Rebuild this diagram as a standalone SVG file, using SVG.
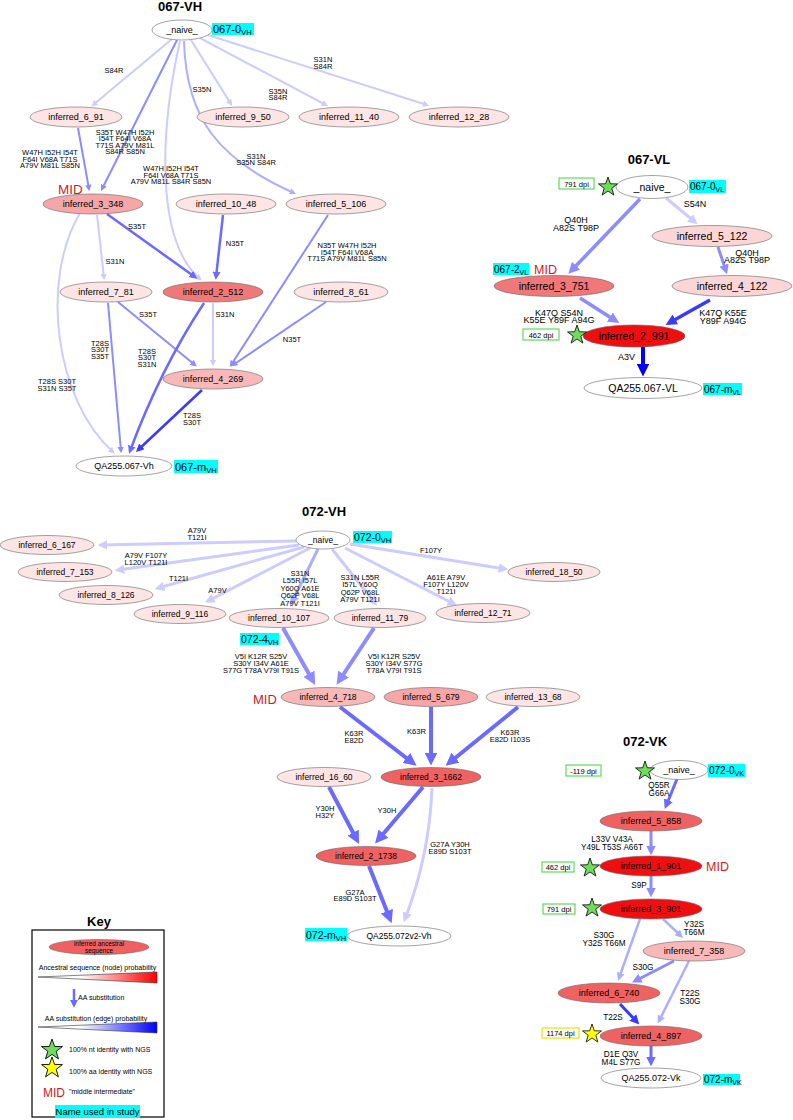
<svg xmlns="http://www.w3.org/2000/svg" width="793" height="1120" viewBox="0 0 793 1120">
<style>
text{font-family:"Liberation Sans",Arial,sans-serif;fill:#000}
.t{font-size:13px;font-weight:bold;text-anchor:middle}
.n{stroke:#666;stroke-width:0.6}
.w{fill:#fff}.p0{fill:#fde5e5}.p1{fill:#fcd6d6}.p2{fill:#f9b8b8}.p3{fill:#f6a6a6}.p4{fill:#f07878}.p5{fill:#ef6262}.p6{fill:#ee1010}
.n9{font-size:9px;text-anchor:middle}
.n85{font-size:8.5px;text-anchor:middle}
.n10{font-size:10.5px;text-anchor:middle}
.l{font-size:7.5px;text-anchor:middle}
.l8{font-size:9px;text-anchor:middle}
.l85{font-size:8.2px;text-anchor:middle}
.e{fill:none;stroke-linecap:butt}
.e1{stroke:#ccccff}.e2{stroke:#aeaeff}.e3{stroke:#8c8cff}.e4{stroke:#6a6aff}.e5{stroke:#3a3aff}.e6{stroke:#0000ff}
.mid{fill:#d01c1c}
.cy{fill:#00ffff}
.dg{fill:#fff;stroke:#5ddc5d;stroke-width:1.2}
.dyl{fill:#fff;stroke:#e6e600;stroke-width:1.2}
.sg{fill:#6fdc5c;stroke:#000;stroke-width:0.8}
.sy{fill:#ffff00;stroke:#000;stroke-width:0.8}
.d{font-size:7.5px;text-anchor:middle}
.k{font-size:7px}
</style>
<defs>
<marker id="m1" viewBox="0 0 10 10" refX="6.5" refY="5" markerWidth="3.2" markerHeight="3.2" orient="auto"><polygon points="0,0 10,5 0,10" fill="#ccccff"/></marker>
<marker id="m2" viewBox="0 0 10 10" refX="6.5" refY="5" markerWidth="3.2" markerHeight="3.2" orient="auto"><polygon points="0,0 10,5 0,10" fill="#aeaeff"/></marker>
<marker id="m3" viewBox="0 0 10 10" refX="6.5" refY="5" markerWidth="3.2" markerHeight="3.2" orient="auto"><polygon points="0,0 10,5 0,10" fill="#8c8cff"/></marker>
<marker id="m4" viewBox="0 0 10 10" refX="6.5" refY="5" markerWidth="3.2" markerHeight="3.2" orient="auto"><polygon points="0,0 10,5 0,10" fill="#6a6aff"/></marker>
<marker id="m5" viewBox="0 0 10 10" refX="6.5" refY="5" markerWidth="3.2" markerHeight="3.2" orient="auto"><polygon points="0,0 10,5 0,10" fill="#3a3aff"/></marker>
<marker id="m6" viewBox="0 0 10 10" refX="6.5" refY="5" markerWidth="3.2" markerHeight="3.2" orient="auto"><polygon points="0,0 10,5 0,10" fill="#0000ff"/></marker>
<path id="star" d="M0,-10 L2.35,-3.24 L9.51,-3.09 L3.8,1.24 L5.88,8.09 L0,4 L-5.88,8.09 L-3.8,1.24 L-9.51,-3.09 L-2.35,-3.24 Z"/>
<linearGradient id="gr" x1="0" y1="0" x2="1" y2="0"><stop offset="0" stop-color="#fff"/><stop offset="0.35" stop-color="#fff"/><stop offset="1" stop-color="#ff0000"/></linearGradient>
<linearGradient id="gb" x1="0" y1="0" x2="1" y2="0"><stop offset="0" stop-color="#fff"/><stop offset="0.35" stop-color="#fff"/><stop offset="1" stop-color="#0000ff"/></linearGradient>
</defs>
<rect x="0" y="0" width="793" height="1120" fill="#fff"/>

<!-- ================= 067-VH ================= -->
<text class="t" x="180" y="11">067-VH</text>
<g id="c067vh">
<path class="e e1" stroke-width="2" marker-end="url(#m1)" d="M172,39 L93,105"/>
<path class="e e3" stroke-width="2" marker-end="url(#m3)" d="M177,40 L102,189"/>
<path class="e e1" stroke-width="2" marker-end="url(#m1)" d="M191,40 L231,104"/>
<path class="e e1" stroke-width="2" marker-end="url(#m1)" d="M200,38 L326,105"/>
<path class="e e1" stroke-width="2" marker-end="url(#m1)" d="M208,35 L427,105"/>
<path class="e e2" stroke-width="2" marker-end="url(#m2)" d="M184,41 C186,120 220,160 294,193"/>
<path class="e e1" stroke-width="2" marker-end="url(#m1)" d="M180,41 C160,130 155,240 200,279"/>
<path class="e e3" stroke-width="2" marker-end="url(#m3)" d="M78,128 L89,189"/>
<path class="e e4" stroke-width="2.5" marker-end="url(#m4)" d="M107,214 L195,277"/>
<path class="e e1" stroke-width="2" marker-end="url(#m1)" d="M97,215 L104,278"/>
<path class="e e1" stroke-width="2" marker-end="url(#m1)" d="M80,213 C40,280 55,400 113,452"/>
<path class="e e4" stroke-width="2.5" marker-end="url(#m4)" d="M223,215 L216,277"/>
<path class="e e3" stroke-width="2" marker-end="url(#m3)" d="M328,215 L231,365"/>
<path class="e e3" stroke-width="2" marker-end="url(#m3)" d="M108,303 L121,451"/>
<path class="e e3" stroke-width="2" marker-end="url(#m3)" d="M118,302 L195,365"/>
<path class="e e4" stroke-width="2.5" marker-end="url(#m4)" d="M204,303 Q160,370 130,451"/>
<path class="e e1" stroke-width="2" marker-end="url(#m1)" d="M213,303 L213,364"/>
<path class="e e3" stroke-width="2" marker-end="url(#m3)" d="M326,302 L233,365"/>
<path class="e e5" stroke-width="2.5" marker-end="url(#m5)" d="M202,390 L138,450"/>
<text class="l" x="114" y="72.5">S84R</text>
<text class="l" x="125" y="134.5"><tspan x="125">S35T W47H I52H</tspan><tspan x="125" dy="6.5">I54T F64I V68A</tspan><tspan x="125" dy="6.5">T71S A79V M81L</tspan><tspan x="125" dy="6.5">S84R S85N</tspan></text>
<text class="l" x="202" y="92">S35N</text>
<text class="l" x="278" y="93.5"><tspan x="278">S35N</tspan><tspan x="278" dy="6.5">S84R</tspan></text>
<text class="l" x="323" y="62"><tspan x="323">S31N</tspan><tspan x="323" dy="6.5">S84R</tspan></text>
<text class="l" x="256" y="158.5"><tspan x="256">S31N</tspan><tspan x="256" dy="6.5">S35N S84R</tspan></text>
<text class="l" x="171" y="171"><tspan x="171">W47H I52H I54T</tspan><tspan x="171" dy="6.5">F64I V68A T71S</tspan><tspan x="171" dy="6.5">A79V M81L S84R S85N</tspan></text>
<text class="l" x="50" y="155"><tspan x="50">W47H I52H I54T</tspan><tspan x="50" dy="6.5">F64I V68A T71S</tspan><tspan x="50" dy="6.5">A79V M81L S85N</tspan></text>
<text class="l" x="137" y="228.5">S35T</text>
<text class="l" x="115" y="263.5">S31N</text>
<text class="l" x="235" y="245.5">N35T</text>
<text class="l" x="347" y="248"><tspan x="347">N35T W47H I52H</tspan><tspan x="347" dy="6.5">I54T F64I V68A</tspan><tspan x="347" dy="6.5">T71S A79V M81L S85N</tspan></text>
<text class="l" x="100" y="345.5"><tspan x="100">T28S</tspan><tspan x="100" dy="6.5">S30T</tspan><tspan x="100" dy="6.5">S35T</tspan></text>
<text class="l" x="148" y="316.5">S35T</text>
<text class="l" x="147" y="353.5"><tspan x="147">T28S</tspan><tspan x="147" dy="6.5">S30T</tspan><tspan x="147" dy="6.5">S31N</tspan></text>
<text class="l" x="225" y="316.5">S31N</text>
<text class="l" x="292" y="341.5">N35T</text>
<text class="l" x="192" y="418"><tspan x="192">T28S</tspan><tspan x="192" dy="6.5">S30T</tspan></text>
<text class="l" x="57" y="384"><tspan x="57">T28S S30T</tspan><tspan x="57" dy="6.5">S31N S35T</tspan></text>
</g>
<g id="vh067_naive"><ellipse class="n w" cx="182" cy="30" rx="30" ry="10"/><text class="n9" x="182" y="33">_naive_</text>
<rect class="cy" x="212" y="23" width="42" height="12"/><text x="213" y="33" font-size="11">067-0<tspan font-size="7.5" dy="2">VH</tspan></text></g>
<g id="vh067_i6_91"><ellipse class="n p0" cx="76" cy="117" rx="46" ry="10"/><text class="n9" x="76" y="120">inferred_6_91</text></g>
<g id="vh067_i9_50"><ellipse class="n p0" cx="243" cy="117" rx="46" ry="10"/><text class="n9" x="243" y="120">inferred_9_50</text></g>
<g id="vh067_i11_40"><ellipse class="n p0" cx="349" cy="117" rx="50" ry="10"/><text class="n9" x="349" y="120">inferred_11_40</text></g>
<g id="vh067_i12_28"><ellipse class="n p0" cx="459" cy="117" rx="50" ry="10"/><text class="n9" x="459" y="120">inferred_12_28</text></g>
<g id="vh067_i3_348"><ellipse class="n p3" cx="93" cy="204" rx="50" ry="10"/><text class="n9" x="93" y="207">inferred_3_348</text><text class="mid" x="58" y="194" font-size="13.5">MID</text></g>
<g id="vh067_i10_48"><ellipse class="n p0" cx="226" cy="204" rx="50" ry="10"/><text class="n9" x="226" y="207">inferred_10_48</text></g>
<g id="vh067_i5_106"><ellipse class="n p0" cx="336" cy="204" rx="50" ry="10"/><text class="n9" x="336" y="207">inferred_5_106</text></g>
<g id="vh067_i7_81"><ellipse class="n p0" cx="106" cy="292" rx="46" ry="10"/><text class="n9" x="106" y="295">inferred_7_81</text></g>
<g id="vh067_i2_512"><ellipse class="n p4" cx="213" cy="292" rx="50" ry="10"/><text class="n9" x="213" y="295">inferred_2_512</text></g>
<g id="vh067_i8_61"><ellipse class="n p0" cx="341" cy="292" rx="47" ry="10"/><text class="n9" x="341" y="295">inferred_8_61</text></g>
<g id="vh067_i4_269"><ellipse class="n p2" cx="213" cy="379" rx="50" ry="10"/><text class="n9" x="213" y="382">inferred_4_269</text></g>
<g id="vh067_qa"><ellipse class="n w" cx="124" cy="466" rx="48" ry="10"/><text class="n9" x="124" y="469">QA255.067-Vh</text>
<rect class="cy" x="174" y="460" width="44" height="13"/><text x="175" y="470.5" font-size="11">067-m<tspan font-size="7.5" dy="2">VH</tspan></text></g>

<!-- ================= 067-VL ================= -->
<text class="t" x="649" y="164">067-VL</text>
<g id="c067vl">
<path class="e e3" stroke-width="3.5" marker-end="url(#m3)" d="M640,199 L571,271"/>
<path class="e e1" stroke-width="3" marker-end="url(#m1)" d="M666,198 L695,222"/>
<path class="e e3" stroke-width="3" marker-end="url(#m3)" d="M718,247 L726,271"/>
<path class="e e3" stroke-width="3.5" marker-end="url(#m3)" d="M580,298 L616,321"/>
<path class="e e5" stroke-width="3.5" marker-end="url(#m5)" d="M710,300 L669,323"/>
<path class="e e6" stroke-width="4" marker-end="url(#m6)" d="M643,347 L643,372"/>
<text class="l8" x="576" y="223"><tspan x="576">Q40H</tspan><tspan x="576" dy="7.5">A82S T98P</tspan></text>
<text class="l8" x="695" y="206.5">S54N</text>
<text class="l8" x="747" y="255.5"><tspan x="747">Q40H</tspan><tspan x="747" dy="7.5">A82S T98P</tspan></text>
<text class="l8" x="559" y="315.5"><tspan x="559">K47Q S54N</tspan><tspan x="559" dy="7.5">K55E Y89F A94G</tspan></text>
<text class="l8" x="723" y="315.5"><tspan x="723">K47Q K55E</tspan><tspan x="723" dy="8">Y89F A94G</tspan></text>
<text class="l8" x="626.5" y="359.5">A3V</text>
</g>
<g id="vl067_naive"><ellipse class="n w" cx="652" cy="187" rx="36" ry="11.5"/><text class="n10" x="652" y="191">_naive_</text>
<rect class="dg" x="559" y="178" width="35" height="11"/><text class="d" x="576.5" y="186.5">791 dpi</text>
<use href="#star" class="sg" transform="translate(608,187)"/>
<rect class="cy" x="689" y="180" width="37" height="13"/><text x="690" y="190" font-size="10">067-0<tspan font-size="7" dy="2">VL</tspan></text></g>
<g id="vl067_i5_122"><ellipse class="n p1" cx="712" cy="236" rx="60" ry="10.5"/><text class="n10" x="712" y="240">inferred_5_122</text></g>
<g id="vl067_i3_751"><ellipse class="n p4" cx="554" cy="286" rx="60" ry="10.5"/><text class="n10" x="554" y="290">inferred_3_751</text>
<rect class="cy" x="493" y="263" width="36" height="12"/><text x="494" y="272.5" font-size="10">067-2<tspan font-size="7" dy="2">VL</tspan></text>
<text class="mid" x="534" y="273.5" font-size="12.5">MID</text></g>
<g id="vl067_i4_122"><ellipse class="n p1" cx="732" cy="286" rx="60" ry="10.5"/><text class="n10" x="732" y="290">inferred_4_122</text></g>
<g id="vl067_i2_991"><ellipse class="n p6" cx="634" cy="336" rx="51" ry="11"/><text class="n10" x="634" y="340">inferred_2_991</text>
<rect class="dg" x="523" y="329" width="36" height="11"/><text class="d" x="541" y="337.5">462 dpi</text>
<use href="#star" class="sg" transform="translate(577,335)"/></g>
<g id="vl067_qa"><ellipse class="n w" cx="643" cy="388" rx="59" ry="10.5"/><text class="n10" x="643" y="392">QA255.067-VL</text>
<rect class="cy" x="703" y="383" width="39" height="12"/><text x="704" y="392.5" font-size="10">067-m<tspan font-size="7" dy="2">VL</tspan></text></g>

<!-- ================= 072-VH ================= -->
<text class="t" x="324" y="516">072-VH</text>
<g id="c072vh">
<path class="e e1" stroke-width="3" marker-end="url(#m1)" d="M296,541 L101,545"/>
<path class="e e1" stroke-width="3" marker-end="url(#m1)" d="M299,545 L118,570"/>
<path class="e e1" stroke-width="3" marker-end="url(#m1)" d="M304,547 L158,588"/>
<path class="e e1" stroke-width="3" marker-end="url(#m1)" d="M310,548 L208,601"/>
<path class="e e2" stroke-width="3" marker-end="url(#m2)" d="M318,549 L292,602"/>
<path class="e e1" stroke-width="3" marker-end="url(#m1)" d="M332,549 L375,603"/>
<path class="e e1" stroke-width="3" marker-end="url(#m1)" d="M345,548 L454,604"/>
<path class="e e1" stroke-width="3" marker-end="url(#m1)" d="M350,544 L505,569"/>
<path class="e e3" stroke-width="4" marker-end="url(#m3)" d="M283,628 L313,681"/>
<path class="e e3" stroke-width="4" marker-end="url(#m3)" d="M374,628 L339,681"/>
<path class="e e4" stroke-width="4" marker-end="url(#m4)" d="M340,707 L413,763"/>
<path class="e e4" stroke-width="4" marker-end="url(#m4)" d="M431,707 L431,761"/>
<path class="e e4" stroke-width="4" marker-end="url(#m4)" d="M518,707 L449,763"/>
<path class="e e4" stroke-width="4" marker-end="url(#m4)" d="M329,787 L357,840"/>
<path class="e e4" stroke-width="4" marker-end="url(#m4)" d="M423,787 L378,840"/>
<path class="e e1" stroke-width="3" marker-end="url(#m1)" d="M432,788 C430,840 420,880 405,919"/>
<path class="e e4" stroke-width="4" marker-end="url(#m4)" d="M369,866 L390,919"/>
<text class="l" x="197" y="532.5"><tspan x="197">A79V</tspan><tspan x="197" dy="7">T121I</tspan></text>
<text class="l" x="146" y="557.5"><tspan x="146">A79V F107Y</tspan><tspan x="146" dy="7">L120V T121I</tspan></text>
<text class="l" x="178.5" y="580.5">T121I</text>
<text class="l" x="217.5" y="592.5">A79V</text>
<text class="l" x="300" y="575.5"><tspan x="300">S31N</tspan><tspan x="300" dy="7.5">L55R I57L</tspan><tspan x="300" dy="7.5">Y60Q A61E</tspan><tspan x="300" dy="7.5">Q62P V68L</tspan><tspan x="300" dy="7.5">A79V T121I</tspan></text>
<text class="l" x="360" y="580"><tspan x="360">S31N L55R</tspan><tspan x="360" dy="7.3">I57L Y60Q</tspan><tspan x="360" dy="7.3">Q62P V68L</tspan><tspan x="360" dy="7.3">A79V T121I</tspan></text>
<text class="l" x="446" y="580"><tspan x="446">A61E A79V</tspan><tspan x="446" dy="6.8">F107Y L120V</tspan><tspan x="446" dy="6.8">T121I</tspan></text>
<text class="l" x="431" y="553">F107Y</text>
<text class="l" x="261" y="658.5"><tspan x="261">V5I K12R S25V</tspan><tspan x="261" dy="7">S30Y I34V A61E</tspan><tspan x="261" dy="7">S77G T78A V79I T91S</tspan></text>
<text class="l" x="394" y="658.5"><tspan x="394">V5I K12R S25V</tspan><tspan x="394" dy="7">S30Y I34V S77G</tspan><tspan x="394" dy="7">T78A V79I T91S</tspan></text>
<text class="l" x="354" y="735.5"><tspan x="354">K63R</tspan><tspan x="354" dy="7">E82D</tspan></text>
<text class="l" x="416.5" y="733.5">K63R</text>
<text class="l" x="510" y="734.5"><tspan x="510">K63R</tspan><tspan x="510" dy="7">E82D I103S</tspan></text>
<text class="l" x="325" y="810.5"><tspan x="325">Y30H</tspan><tspan x="325" dy="7.5">H32Y</tspan></text>
<text class="l" x="387" y="812.5">Y30H</text>
<text class="l" x="450" y="846.5"><tspan x="450">G27A Y30H</tspan><tspan x="450" dy="7">E89D S103T</tspan></text>
<text class="l" x="355" y="894.5"><tspan x="355">G27A</tspan><tspan x="355" dy="6.5">E89D S103T</tspan></text>
</g>
<g id="vh072_naive"><ellipse class="n w" cx="323" cy="540" rx="27" ry="9"/><text class="n85" x="323" y="543">_naive_</text>
<rect class="cy" x="353" y="531" width="39" height="12"/><text x="354" y="541" font-size="10.5">072-0<tspan font-size="7.5" dy="2">VH</tspan></text></g>
<g id="vh072_i6_167"><ellipse class="n p0" cx="47" cy="545" rx="47" ry="9.5"/><text class="n85" x="47" y="548">inferred_6_167</text></g>
<g id="vh072_i7_153"><ellipse class="n p0" cx="65" cy="572" rx="47" ry="9.5"/><text class="n85" x="65" y="575">inferred_7_153</text></g>
<g id="vh072_i8_126"><ellipse class="n p0" cx="106" cy="595" rx="47" ry="9.5"/><text class="n85" x="106" y="598">inferred_8_126</text></g>
<g id="vh072_i9_116"><ellipse class="n p0" cx="180" cy="614" rx="46" ry="9.5"/><text class="n85" x="180" y="617">inferred_9_116</text></g>
<g id="vh072_i10_107"><ellipse class="n p0" cx="279" cy="618" rx="50" ry="9.5"/><text class="n85" x="279" y="621">inferred_10_107</text>
<rect class="cy" x="240" y="633" width="39" height="12"/><text x="241" y="643" font-size="10.5">072-4<tspan font-size="7.5" dy="2">VH</tspan></text></g>
<g id="vh072_i11_79"><ellipse class="n p0" cx="380" cy="618" rx="46" ry="9.5"/><text class="n85" x="380" y="621">inferred_11_79</text></g>
<g id="vh072_i12_71"><ellipse class="n p0" cx="483" cy="613" rx="47" ry="9.5"/><text class="n85" x="483" y="616">inferred_12_71</text></g>
<g id="vh072_i18_50"><ellipse class="n p0" cx="554" cy="572" rx="46" ry="9.5"/><text class="n85" x="554" y="575">inferred_18_50</text></g>
<g id="vh072_i4_718"><ellipse class="n p2" cx="328" cy="697" rx="47" ry="9.5"/><text class="n85" x="328" y="700">inferred_4_718</text><text class="mid" x="253" y="704" font-size="13">MID</text></g>
<g id="vh072_i5_679"><ellipse class="n p3" cx="431" cy="697" rx="47" ry="9.5"/><text class="n85" x="431" y="700">inferred_5_679</text></g>
<g id="vh072_i13_68"><ellipse class="n p0" cx="533" cy="697" rx="47" ry="9.5"/><text class="n85" x="533" y="700">inferred_13_68</text></g>
<g id="vh072_i16_60"><ellipse class="n p0" cx="324" cy="777" rx="47" ry="9.5"/><text class="n85" x="324" y="780">inferred_16_60</text></g>
<g id="vh072_i3_1662"><ellipse class="n p5" cx="431" cy="777" rx="50" ry="9.5"/><text class="n85" x="431" y="780">inferred_3_1662</text></g>
<g id="vh072_i2_1738"><ellipse class="n p5" cx="366" cy="856" rx="50" ry="9.5"/><text class="n85" x="366" y="859">inferred_2_1738</text></g>
<g id="vh072_qa"><ellipse class="n w" cx="399" cy="936" rx="52" ry="10"/><text class="n85" x="399" y="939">QA255.072v2-Vh</text>
<rect class="cy" x="305" y="928" width="42" height="13"/><text x="306" y="938.5" font-size="10.5">072-m<tspan font-size="7.5" dy="2">VH</tspan></text></g>

<!-- ================= 072-VK ================= -->
<text class="t" x="645" y="746">072-VK</text>
<g id="c072vk">
<path class="e e4" stroke-width="3" marker-end="url(#m4)" d="M677,779 L666,806"/>
<path class="e e3" stroke-width="3" marker-end="url(#m3)" d="M651,831 L651,852"/>
<path class="e e3" stroke-width="3" marker-end="url(#m3)" d="M651,876 L651,894"/>
<path class="e e2" stroke-width="2.5" marker-end="url(#m2)" d="M663,919 L681,936"/>
<path class="e e2" stroke-width="2.5" marker-end="url(#m2)" d="M640,919 L619,978"/>
<path class="e e3" stroke-width="3" marker-end="url(#m3)" d="M674,961 L635,981"/>
<path class="e e2" stroke-width="2.5" marker-end="url(#m2)" d="M689,961 L659,1021"/>
<path class="e e5" stroke-width="3" marker-end="url(#m5)" d="M620,1004 L637,1022"/>
<path class="e e4" stroke-width="3" marker-end="url(#m4)" d="M651,1046 L651,1063"/>
<text class="l85" x="659" y="788"><tspan x="659">Q55R</tspan><tspan x="659" dy="7.5">G66A</tspan></text>
<text class="l85" x="612" y="842"><tspan x="612">L33V V43A</tspan><tspan x="612" dy="7.5">Y49L T53S A66T</tspan></text>
<text class="l85" x="639" y="888">S9P</text>
<text class="l85" x="694" y="927"><tspan x="694">Y32S</tspan><tspan x="694" dy="7.5">T66M</tspan></text>
<text class="l85" x="604" y="938"><tspan x="604">S30G</tspan><tspan x="604" dy="7.5">Y32S T66M</tspan></text>
<text class="l85" x="643" y="970">S30G</text>
<text class="l85" x="690" y="996"><tspan x="690">T22S</tspan><tspan x="690" dy="7.5">S30G</tspan></text>
<text class="l85" x="613" y="1020">T22S</text>
<text class="l85" x="621" y="1057"><tspan x="621">D1E Q3V</tspan><tspan x="621" dy="7.5">M4L S77G</tspan></text>
</g>
<g id="vk072_naive"><ellipse class="n w" cx="679" cy="770" rx="29" ry="9.5"/><text class="n9" x="679" y="773">_naive_</text>
<rect class="dg" x="566" y="765" width="35" height="11"/><text class="d" x="583.5" y="773.5">-119 dpi</text>
<use href="#star" class="sg" transform="translate(645,771)"/>
<rect class="cy" x="708" y="764" width="37" height="13"/><text x="709" y="774" font-size="10">072-0<tspan font-size="7" dy="2">VK</tspan></text></g>
<g id="vk072_i5_858"><ellipse class="n p5" cx="651" cy="821" rx="51" ry="10"/><text class="n9" x="651" y="824">inferred_5_858</text></g>
<g id="vk072_i1_901"><ellipse class="n p6" cx="651" cy="866" rx="51" ry="10"/><text class="n9" x="651" y="869">inferred_1_901</text>
<rect class="dg" x="542" y="862" width="32" height="10"/><text class="d" x="558" y="869.5">462 dpi</text>
<use href="#star" class="sg" transform="translate(590,868)"/>
<text class="mid" x="706" y="871" font-size="12.5">MID</text></g>
<g id="vk072_i3_901"><ellipse class="n p6" cx="651" cy="909" rx="51" ry="10"/><text class="n9" x="651" y="912">inferred_3_901</text>
<rect class="dg" x="543" y="904" width="32" height="10"/><text class="d" x="559" y="911.5">791 dpi</text>
<use href="#star" class="sg" transform="translate(592,908)"/></g>
<g id="vk072_i7_358"><ellipse class="n p2" cx="694" cy="951" rx="51" ry="10"/><text class="n9" x="694" y="954">inferred_7_358</text></g>
<g id="vk072_i6_740"><ellipse class="n p5" cx="609" cy="993" rx="51" ry="10"/><text class="n9" x="609" y="996">inferred_6_740</text></g>
<g id="vk072_i4_897"><ellipse class="n p5" cx="651" cy="1036" rx="51" ry="10"/><text class="n9" x="651" y="1039">inferred_4_897</text>
<rect class="dyl" x="542" y="1028" width="37" height="10"/><text class="d" x="560.5" y="1035.5">1174 dpi</text>
<use href="#star" class="sy" transform="translate(592,1034)"/></g>
<g id="vk072_qa"><ellipse class="n w" cx="651" cy="1078" rx="50" ry="10"/><text class="n9" x="651" y="1081">QA255.072-Vk</text>
<rect class="cy" x="703" y="1074" width="37" height="11"/><text x="704" y="1083" font-size="10">072-m<tspan font-size="7" dy="2">VK</tspan></text></g>

<!-- ================= Key ================= -->
<g id="key">
<text class="t" x="99" y="926">Key</text>
<rect x="32" y="930" width="132" height="187" fill="#fff" stroke="#000" stroke-width="1.2"/>
<ellipse class="n" cx="99" cy="947" rx="50" ry="7.5" fill="#f06060"/>
<text x="99" y="946" font-size="6.5" text-anchor="middle">inferred ancestral</text>
<text x="99" y="952.5" font-size="6.5" text-anchor="middle">sequence</text>
<text class="k" x="97.5" y="969.5" text-anchor="middle">Ancestral sequence (node) probability</text>
<polygon points="38,977 157,972 157,983" fill="url(#gr)" stroke="#333" stroke-width="0.6"/>
<path class="e e4" stroke-width="2.5" marker-end="url(#m4)" d="M74,989 L74,1005"/>
<text class="k" x="78" y="999.5">AA substitution</text>
<text class="k" x="96" y="1020.5" text-anchor="middle">AA substitution (edge) probability</text>
<polygon points="38,1027 157,1022 157,1033" fill="url(#gb)" stroke="#333" stroke-width="0.6"/>
<use href="#star" class="sg" transform="translate(52,1050) scale(1.1)"/>
<text class="k" x="69" y="1052">100% nt identity with NGS</text>
<use href="#star" class="sy" transform="translate(52,1068) scale(1.1)"/>
<text class="k" x="69" y="1073.5">100% aa identity with NGS</text>
<text class="mid" x="43" y="1097" font-size="12">MID</text>
<text class="k" x="69" y="1094">"middle intermediate"</text>
<rect class="cy" x="55" y="1105" width="85" height="13"/>
<text x="97.5" y="1115" font-size="9.5" text-anchor="middle">Name used in study</text>
</g>
</svg>
